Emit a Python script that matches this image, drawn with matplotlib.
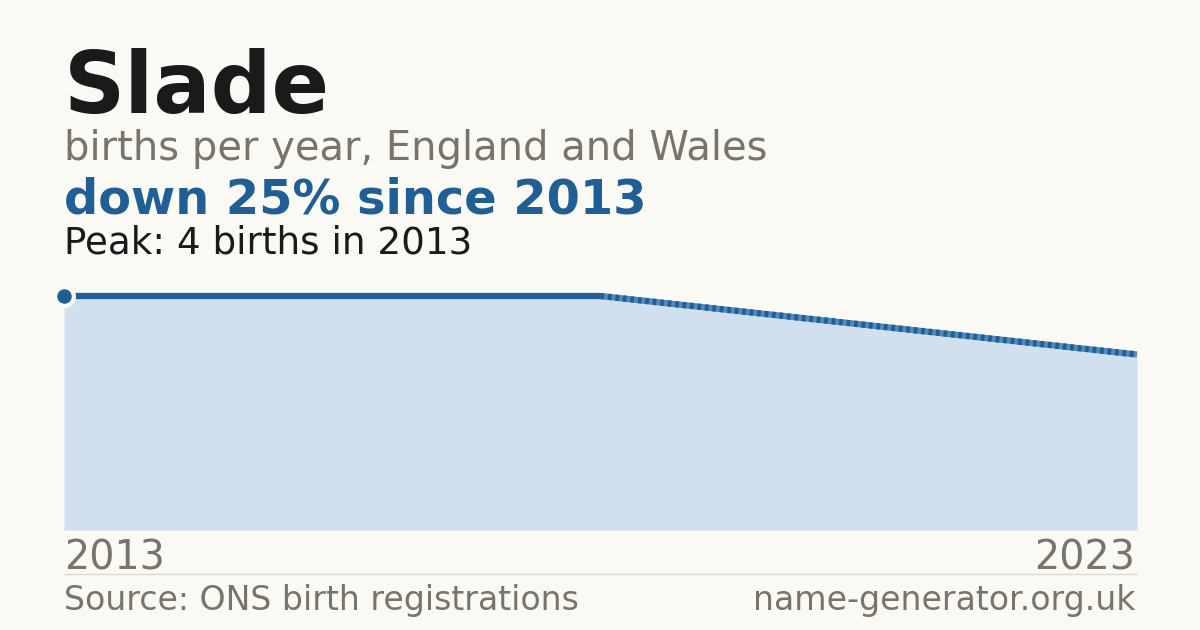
import numpy as np
import matplotlib
matplotlib.use("Agg")
import matplotlib.pyplot as plt

# births per year; 2019-2022 missing, bridged with a dotted segment
years_known = [2013, 2014, 2015, 2016, 2017, 2018]
births_known = [4, 4, 4, 4, 4, 4]
years_end = [2018, 2023]
births_end = [4, 3]
x_labels = ["2013", "2023"]

BG = "#faf9f4"
BLUE = "#1f5f96"
FILL = "#d0e0ef"
GREY = "#78746c"
DARK = "#1a1a1a"

W, H = 1200, 630
fig = plt.figure(figsize=(12, 6.3), dpi=100, facecolor=BG)

def px(x, y):
    return x / W, 1 - y / H

left, right, top, bottom = 64, 1137, 296, 530
ax = fig.add_axes([left / W, 1 - bottom / H, (right - left) / W, (bottom - top) / H])
ax.set_facecolor(BG)
ax.set_xlim(2013, 2023)
ax.set_ylim(0, 4)
ax.axis("off")

all_years = years_known + years_end[1:]
all_births = births_known + births_end[1:]
ax.fill_between(all_years, all_births, 0, color=FILL, lw=0)
ax.plot(years_known, births_known, color=BLUE, lw=4.5, solid_capstyle="butt", clip_on=False)
ax.plot(years_end, births_end, color="#5288ba", lw=4.5, solid_capstyle="butt", clip_on=False)
ax.plot(years_end, births_end, color=BLUE, lw=4.5, ls=(0, (0.6, 0.6)), dash_capstyle="butt", clip_on=False)
ax.plot([years_known[0]], [births_known[0]], "o", ms=13.5, mfc=BLUE, mec=BG, mew=3, clip_on=False, zorder=5)

# titles
fig.text(*px(64, 113), "Slade", fontsize=61.2, fontweight="bold", color=DARK, va="baseline")
fig.text(*px(64, 160), "births per year, England and Wales", fontsize=28.8, color=GREY, va="baseline")
fig.text(*px(64, 214), "down 25% since 2013", fontsize=34.5, fontweight="bold", color=BLUE, va="baseline")
fig.text(*px(64, 254), "Peak: 4 births in 2013", fontsize=26.8, color=DARK, va="baseline")

# x labels
fig.text(*px(64, 570), x_labels[0], fontsize=28.5, color=GREY, va="baseline")
fig.text(*px(1135, 570), x_labels[1], fontsize=28.5, color=GREY, va="baseline", ha="right")

# separator + footer
fig.add_artist(plt.Line2D([left / W, right / W], [1 - 574 / H] * 2, color="#ddd8d0", lw=1))
fig.text(*px(64, 610), "Source: ONS birth registrations", fontsize=23.9, color=GREY, va="baseline")
fig.text(*px(1135, 610), "name-generator.org.uk", fontsize=23.9, color=GREY, va="baseline", ha="right")

fig.savefig("out.png", dpi=100, facecolor=BG)
